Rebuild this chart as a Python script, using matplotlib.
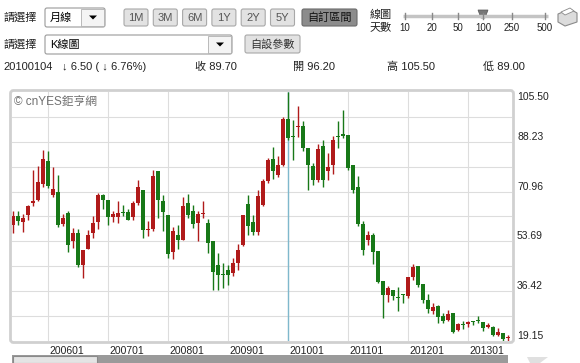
import numpy as np
import pandas as pd
import matplotlib.pyplot as plt
from matplotlib.patches import Rectangle, FancyBboxPatch, Polygon

plt.rcParams['font.family'] = ['Liberation Sans', 'Noto Sans CJK TC', 'DejaVu Sans']

# Monthly K-line data, 2005-06 .. 2013-09
months = pd.period_range('2005-06', periods=100, freq='M')

opens = [59.3, 62.4, 60.4, 62.7, 67.0, 67.9, 73.7, 81.7, 69.9, 70.8,
         59.7, 63.5, 53.7, 56.6, 45.6, 51.2, 56.6, 60.3, 69.7, 67.9,
         62.0, 62.0, 63.9, 63.9, 62.0, 67.0, 71.6, 57.8, 58.1, 78.0,
         67.8, 63.0, 50.0, 55.8, 54.3, 67.0, 64.4, 60.1, 63.2, 60.1,
         54.0, 45.6, 42.4, 43.9, 42.7, 46.2, 52.6, 66.7, 60.4, 57.0,
         66.2, 74.8, 82.4, 76.6, 80.3, 96.2, 90.1, 93.3, 93.8, 86.1,
         79.7, 75.1, 86.9, 78.0, 80.1, 90.4, 91.0, 90.7, 80.3, 72.5,
         59.7, 54.1, 56.0, 50.3, 40.1, 35.2, 37.0, 34.3, 35.5, 34.6,
         41.2, 45.1, 38.9, 33.5, 29.5, 31.2, 27.7, 26.6, 28.9, 23.1,
         25.1, 25.2, 26.2, 26.6, 25.7, 23.9, 23.9, 21.4, 21.9, 20.2]
closes = [62.4, 60.7, 61.8, 65.9, 67.6, 74.2, 82.3, 72.8, 71.9, 59.5,
          61.8, 52.6, 56.6, 45.6, 50.6, 56.0, 60.1, 69.7, 67.9, 62.0,
          63.2, 63.5, 63.4, 61.0, 67.0, 72.5, 57.8, 58.1, 76.3, 68.2,
          63.9, 49.4, 57.4, 54.3, 65.9, 63.0, 59.7, 63.2, 63.5, 53.2,
          43.0, 42.2, 42.2, 41.9, 46.2, 50.6, 63.0, 58.9, 57.0, 69.3,
          74.8, 82.0, 78.2, 80.1, 96.2, 89.7, 89.9, 93.8, 86.1, 80.3,
          75.1, 85.9, 75.1, 79.4, 89.0, 90.0, 90.1, 79.2, 71.6, 59.7,
          50.8, 56.0, 49.9, 39.6, 35.0, 37.5, 34.6, 33.9, 35.0, 41.2,
          44.7, 38.7, 33.2, 30.4, 30.8, 27.4, 26.2, 28.5, 22.3, 25.1,
          24.6, 25.6, 25.7, 26.0, 23.7, 24.6, 21.4, 22.3, 20.0, 20.4]
highs = [64.1, 64.1, 63.2, 66.4, 78.6, 79.7, 85.5, 85.2, 79.4, 76.6,
         63.2, 64.4, 58.3, 58.0, 50.6, 57.5, 62.4, 70.5, 70.1, 67.9,
         64.1, 67.6, 66.4, 65.0, 67.6, 75.1, 71.6, 60.9, 78.6, 78.0,
         69.9, 63.0, 58.6, 59.5, 69.0, 70.1, 66.4, 64.4, 67.6, 61.5,
         54.0, 49.7, 46.2, 45.6, 47.9, 52.8, 63.0, 69.9, 63.0, 71.6,
         75.5, 82.6, 86.3, 83.2, 96.7, 105.5, 95.9, 100.5, 95.3, 86.1,
         80.9, 87.5, 89.0, 84.4, 90.1, 95.6, 99.4, 90.7, 80.3, 76.3,
         60.9, 57.2, 56.6, 50.3, 40.1, 38.1, 37.0, 37.8, 35.5, 41.2,
         45.9, 45.1, 38.9, 35.5, 32.3, 31.8, 28.9, 30.0, 28.9, 25.4,
         26.0, 26.0, 26.2, 27.9, 25.7, 25.4, 24.2, 23.7, 21.9, 21.4]
lows = [56.6, 59.3, 57.0, 61.2, 65.9, 67.6, 72.6, 72.2, 69.0, 58.6,
        58.9, 50.0, 51.4, 44.7, 41.0, 51.2, 54.9, 58.1, 65.0, 59.5,
        60.4, 60.1, 62.4, 61.0, 61.2, 66.2, 54.9, 55.5, 57.2, 61.8,
        57.2, 47.9, 47.7, 51.2, 54.3, 61.8, 58.3, 53.7, 61.8, 49.7,
        37.0, 37.0, 37.5, 38.7, 41.6, 43.9, 52.0, 56.0, 55.8, 56.0,
        65.9, 74.0, 75.5, 75.9, 79.7, 89.0, 82.0, 89.8, 85.2, 71.6,
        73.4, 74.3, 72.5, 75.1, 77.1, 86.1, 89.6, 78.6, 70.5, 58.9,
        48.9, 52.3, 45.9, 39.3, 27.1, 32.7, 33.5, 29.7, 32.3, 34.1,
        40.4, 37.8, 32.3, 28.9, 28.5, 25.4, 25.4, 26.0, 21.9, 22.7,
        23.4, 23.9, 24.6, 25.4, 22.7, 23.7, 20.8, 20.8, 19.2, 19.3]

y_ticks = [105.50, 88.23, 70.96, 53.69, 36.42, 19.15]
selected = '2010-01'

# header info row
info_date = '20100104'
info_change = '\u2193 6.50 ( \u2193 6.76%)'
info_fields = [('收', '89.70'), ('開', '96.20'), ('高', '105.50'), ('低', '89.00')]

range_buttons = ['1M', '3M', '6M', '1Y', '2Y', '5Y']
slider_labels = ['10', '20', '50', '100', '250', '500']

UP = '#b01a1a'
DOWN = '#187818'
TXT = '#222222'

fig = plt.figure(figsize=(5.8, 3.63), dpi=100)

# Background axes in pixel coordinates for the page widgets
bg = fig.add_axes([0, 0, 1, 1])
bg.set_xlim(0, 580)
bg.set_ylim(363, 0)
bg.axis('off')


def button(x, y, w, h, label, fc='#e2e2e2', ec='#a8a8a8', tc='#555555'):
    bg.add_patch(FancyBboxPatch((x, y), w, h, boxstyle='round,pad=0,rounding_size=2',
                                fc=fc, ec=ec, lw=0.8))
    bg.text(x + w / 2, y + h / 2 + 0.5, label, ha='center', va='center', fontsize=8, color=tc)


def dropdown(x, y, w, h, label):
    bg.add_patch(FancyBboxPatch((x, y), w, h, boxstyle='round,pad=0,rounding_size=2',
                                fc='white', ec='#9a9a9a', lw=0.8))
    bg.add_patch(Rectangle((x + w - 24, y + 1), 23, h - 2, fc='#f4f4f4', ec='#b0b0b0', lw=0.6))
    bg.add_patch(Polygon([[x + w - 16, y + h / 2 - 2], [x + w - 8, y + h / 2 - 2],
                          [x + w - 12, y + h / 2 + 2]], closed=True, fc='black', ec='none'))
    bg.text(x + 5, y + h / 2 + 0.5, label, ha='left', va='center', fontsize=8, color='black')


# Row 1
bg.text(3, 17, '請選擇', ha='left', va='center', fontsize=8, color=TXT)
dropdown(45, 8, 60, 19, '月線')
for i, lab in enumerate(range_buttons):
    button(124 + i * 29.3, 9, 24, 17, lab)
button(302, 9, 55, 17, '自訂區間', fc='#8c8c8c', ec='#6a6a6a', tc='#111111')
bg.text(370, 15, '線圖', ha='left', va='center', fontsize=8, color=TXT)
bg.text(370, 27, '天數', ha='left', va='center', fontsize=8, color=TXT)
slider_x = [405, 432, 458, 483, 512, 545]
bg.plot([403, 548], [16, 16], color='#c4c4c4', lw=2.5, solid_capstyle='butt')
for sx, lab in zip(slider_x, slider_labels):
    bg.plot([sx, sx], [13, 19], color='#888888', lw=1)
    bg.text(sx, 28, lab, ha='center', va='center', fontsize=7, color=TXT)
bg.add_patch(Polygon([[478, 10], [488, 10], [485, 18], [481, 18]], closed=True,
                     fc='#777777', ec='#555555', lw=0.5))
# printer icon
bg.add_patch(Polygon([[558, 14], [570, 9], [577, 13], [577, 22], [565, 26], [558, 22]],
                     closed=True, fc='#dcdcdc', ec='#8a8a8a', lw=0.8))
bg.add_patch(Polygon([[561, 12], [570, 8], [574, 11], [565, 15]], closed=True,
                     fc='white', ec='#8a8a8a', lw=0.6))

# Row 2
bg.text(3, 44, '請選擇', ha='left', va='center', fontsize=8, color=TXT)
dropdown(45, 35, 187, 19, 'K線圖')
button(245, 35, 55, 18, '自設參數', tc='#333333')

# Row 3
bg.text(3, 67, info_date, ha='left', va='center', fontsize=8, color=TXT)
bg.text(62, 67, info_change, ha='left', va='center', fontsize=8, color=TXT)
for (name, val), fx in zip(info_fields, [195, 293, 387, 483]):
    bg.text(fx, 67, name + ' ' + val, ha='left', va='center', fontsize=8, color=TXT)

# chart panel frame
bg.add_patch(FancyBboxPatch((10.5, 90.5), 503, 252, boxstyle='round,pad=0,rounding_size=3',
                            fc='white', ec='#d0d0d0', lw=2))
# bottom scroll bar
bg.add_patch(Rectangle((12, 355), 496, 8, fc='#9a9a9a', ec='none'))
bg.add_patch(Rectangle((13, 355.5), 84, 7.5, fc='#e4e4e4', ec='#8a8a8a', lw=0.8))
bg.add_patch(Polygon([[527, 357], [548, 357], [540, 363], [530, 363]], closed=True,
                     fc='#e0e0e0', ec='none'))

# Candlestick axes
ax = fig.add_axes([12 / 580, (363 - 341) / 363, 500 / 580, 249 / 363])
ax.patch.set_alpha(0)
x = np.arange(len(closes))
o = np.array(opens)
c = np.array(closes)
colors = np.where(c >= o, UP, DOWN)

ax.set_xlim(-0.2, len(closes) - 0.2)
ax.set_ylim(y_ticks[-1], y_ticks[0])

# grid lines
jan = [i for i, m in enumerate(months) if m.month == 1]
half_step = (y_ticks[0] - y_ticks[-1]) / 10
for gy in y_ticks[-1] + half_step * np.arange(1, 10):
    ax.axhline(gy, color='#dddddd', lw=0.8, zorder=0)
for j in jan:
    ax.axvline(j, color='#dddddd', lw=0.8, zorder=0)

sel = list(months.strftime('%Y-%m')).index(selected)
ax.axvline(sel, color='#7fb8cc', lw=1, zorder=1)

# wicks and bodies
ax.vlines(x, lows, highs, colors=colors, lw=1, zorder=2)
body_h = np.maximum(np.abs(c - o), 0.35)
ax.bar(x, body_h, bottom=np.minimum(o, c), width=0.75, color=colors, zorder=3)

ax.set_xticks([])
ax.set_yticks([])
for s in ax.spines.values():
    s.set_visible(False)

ax.text(0.005, 0.985, '\u00a9 cnYES鉅亨網', transform=ax.transAxes, ha='left', va='top',
        fontsize=8.5, color='#707070')

# x labels (left aligned at January grid lines)
for j in jan:
    ax.text(j + 0.2, -0.02, months[j].strftime('%Y%m'), transform=ax.get_xaxis_transform(),
            ha='left', va='top', fontsize=7.5, color=TXT)

# y labels on the right
for i, v in enumerate(y_ticks):
    va = 'top' if i == 0 else 'bottom'
    ax.text(1.01, v, '%.2f' % v, transform=ax.get_yaxis_transform(),
            ha='left', va=va, fontsize=7.5, color=TXT)

plt.savefig('out.png', dpi=100)
